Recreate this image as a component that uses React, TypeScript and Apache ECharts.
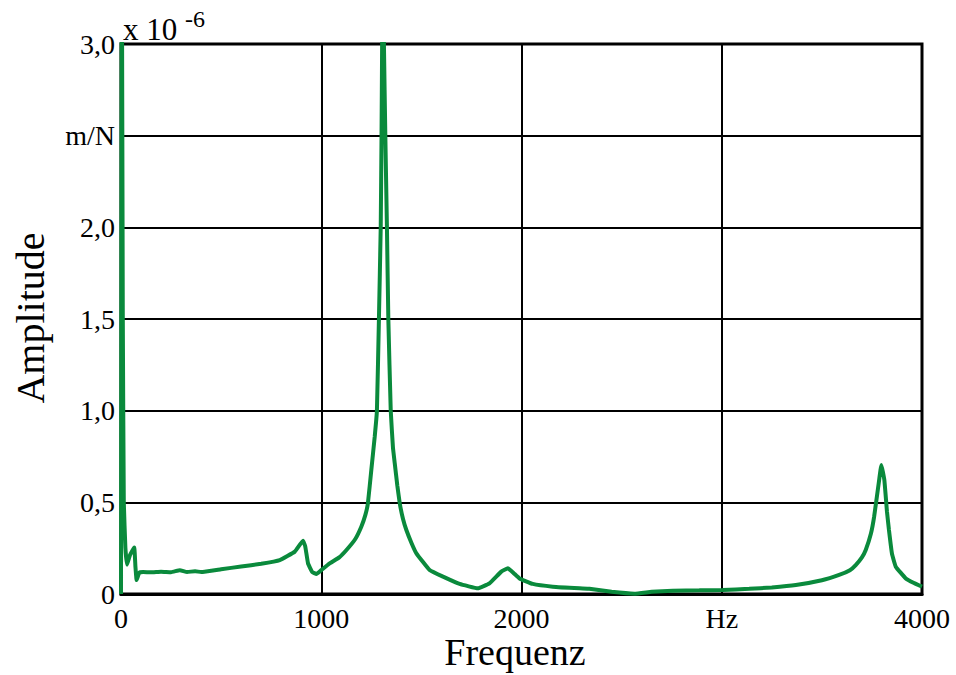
import React, { useEffect, useRef } from "react";
import * as echarts from "echarts";

const freqs = [
  0, 4, 9, 14, 22, 30, 45, 66, 72, 78, 91, 110, 150, 200, 250, 294, 330, 370, 400,
  500, 600, 700, 793, 868, 909, 920, 934, 955, 976, 1000, 1042, 1090, 1126, 1170,
  1200, 1220, 1233, 1250, 1267, 1278, 1288, 1297, 1301, 1304, 1308, 1313, 1320, 1328,
  1335, 1347, 1358, 1367, 1380, 1392, 1408, 1425, 1450, 1475, 1541, 1608, 1691, 1782, 1840, 1899,
  1932, 1960, 1990, 2056, 2156, 2290, 2339, 2450, 2564, 2650, 2755, 2888, 3004,
  3137, 3250, 3370, 3500, 3586, 3640, 3669, 3700, 3719, 3745, 3761, 3786, 3797, 3812, 3825, 3835, 3850, 3869,
  3919, 3960, 4000,
];
const amps = [
  0, 3.6, 1.5, 0.5, 0.25, 0.16, 0.213, 0.253, 0.15, 0.076, 0.116, 0.12, 0.118,
  0.122, 0.119, 0.13, 0.12, 0.124, 0.12, 0.135, 0.15, 0.165, 0.185, 0.231, 0.29,
  0.26, 0.167, 0.12, 0.109, 0.13, 0.167, 0.2, 0.24, 0.3, 0.367, 0.43, 0.495, 0.676,
  0.858, 1.0, 1.5, 2.0, 2.5, 3.0, 3.8, 3.0, 2.5, 2.0, 1.5, 1.0, 0.8, 0.713,
  0.59, 0.495, 0.41, 0.349, 0.28, 0.222, 0.131, 0.095, 0.055, 0.031, 0.058, 0.122, 0.14, 0.115,
  0.085, 0.055, 0.04, 0.031, 0.029, 0.012, 0.002, 0.012, 0.018, 0.02, 0.022,
  0.028, 0.036, 0.049, 0.075, 0.104, 0.13, 0.158, 0.2, 0.24, 0.33, 0.422, 0.622, 0.704, 0.622,
  0.45, 0.349, 0.22, 0.149, 0.085, 0.06, 0.04,
];
const yTickLabels: Record<string, string> = {
  "0": "0",
  "0.5": "0,5",
  "1": "1,0",
  "1.5": "1,5",
  "2": "2,0",
  "2.5": "m/N",
  "3": "3,0",
};
const xTickLabels: Record<string, string> = {
  "0": "0",
  "1000": "1000",
  "2000": "2000",
  "3000": "Hz",
  "4000": "4000",
};

const FONT = "Liberation Serif";

export default function App() {
  const ref = useRef<HTMLDivElement>(null);
  useEffect(() => {
    if (!ref.current) return;
    const chart = echarts.init(ref.current, undefined, { renderer: "svg" });
    chart.setOption({
      animation: false,
      backgroundColor: "#ffffff",
      textStyle: { fontFamily: FONT },
      grid: {
        left: 121,
        right: 34,
        top: 44,
        bottom: 81,
        show: true,
        borderColor: "#000",
        borderWidth: 3,
      },
      xAxis: {
        type: "value",
        min: 0,
        max: 4000,
        interval: 1000,
        axisLine: { show: true, lineStyle: { color: "#000", width: 3 } },
        axisTick: { show: false },
        splitLine: { show: true, lineStyle: { color: "#000", width: 2 } },
        axisLabel: {
          color: "#000",
          fontFamily: FONT,
          fontSize: 28,
          margin: 10,
          formatter: (v: number) => xTickLabels[String(v)] ?? "",
        },
      },
      yAxis: {
        type: "value",
        min: 0,
        max: 3,
        interval: 0.5,
        axisLine: { show: true, lineStyle: { color: "#000", width: 3 } },
        axisTick: { show: false },
        splitLine: { show: true, lineStyle: { color: "#000", width: 2 } },
        axisLabel: {
          color: "#000",
          fontFamily: FONT,
          fontSize: 28,
          margin: 6,
          formatter: (v: number) => yTickLabels[String(v)] ?? "",
        },
      },
      graphic: [
        {
          type: "text",
          x: 123,
          y: 45,
          style: {
            text: "x 10",
            fontFamily: FONT,
            fontSize: 31,
            fill: "#000",
            verticalAlign: "bottom",
          },
        },
        {
          type: "text",
          x: 185,
          y: 31,
          style: {
            text: "-6",
            fontFamily: FONT,
            fontSize: 24,
            fill: "#000",
            verticalAlign: "bottom",
          },
        },
        {
          type: "text",
          x: 515,
          y: 652,
          style: {
            text: "Frequenz",
            fontFamily: FONT,
            fontSize: 38,
            fill: "#000",
            align: "center",
            verticalAlign: "middle",
          },
        },
        {
          type: "text",
          x: 30,
          y: 318,
          rotation: Math.PI / 2,
          style: {
            text: "Amplitude",
            fontFamily: FONT,
            fontSize: 40,
            fill: "#000",
            align: "center",
            verticalAlign: "middle",
          },
        },
      ],
      series: [
        {
          type: "line",
          data: freqs.map((f, i) => [f, amps[i]]),
          showSymbol: false,
          symbol: "none",
          clip: true,
          smooth: 0.1,
          lineStyle: { color: "#0a8a3c", width: 4 },
        },
      ],
    });
    return () => chart.dispose();
  }, []);
  return (
    <div
      ref={ref}
      style={{ position: "fixed", left: 0, top: 0, width: 956, height: 675 }}
    />
  );
}
